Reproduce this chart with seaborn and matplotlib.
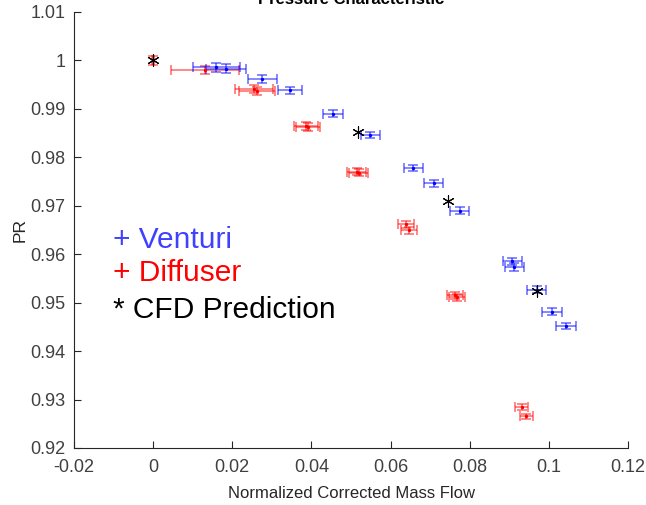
import matplotlib
matplotlib.use("Agg")
import matplotlib.pyplot as plt
import seaborn as sns
import pandas as pd

# Venturi data
venturi_x = [0.0160, 0.0184, 0.0276, 0.0345, 0.0454, 0.0549, 0.0657, 0.0709, 0.0775, 0.0908, 0.0912, 0.0970, 0.1007, 0.1043]
venturi_y = [0.9986, 0.9983, 0.9961, 0.9938, 0.9890, 0.9846, 0.9778, 0.9746, 0.9690, 0.9585, 0.9573, 0.9527, 0.9481, 0.9452]
venturi_xerr = [0.0059, 0.0051, 0.0036, 0.0030, 0.0026, 0.0024, 0.0024, 0.0024, 0.0024, 0.0024, 0.0024, 0.0024, 0.0025, 0.0026]
venturi_yerr = [0.0009, 0.0009, 0.0008, 0.0007, 0.0007, 0.0007, 0.0007, 0.0007, 0.0007, 0.0008, 0.0008, 0.0007, 0.0007, 0.0007]

# Diffuser data
diffuser_x = [0.0, 0.0131, 0.0254, 0.0263, 0.0387, 0.0392, 0.0514, 0.0519, 0.0638, 0.0646, 0.0762, 0.0767, 0.0931, 0.0943]
diffuser_y = [1.0, 0.9981, 0.99415, 0.99366, 0.9865, 0.9862, 0.9770, 0.9768, 0.96618, 0.96494, 0.9515, 0.9511, 0.92851, 0.92651]
diffuser_xerr = [0.0003, 0.0086, 0.0048, 0.0045, 0.0030, 0.0030, 0.0025, 0.0025, 0.0020, 0.0020, 0.0020, 0.0020, 0.0017, 0.0017]
diffuser_yerr = [0.0009, 0.0008, 0.0008, 0.0008, 0.0008, 0.0008, 0.0007, 0.0007, 0.0007, 0.0007, 0.0007, 0.0007, 0.0006, 0.0006]

# CFD prediction
cfd_x = [0.0, 0.0518, 0.0744, 0.0969]
cfd_y = [1.0, 0.9853, 0.9710, 0.9525]

x_ticks = [-0.02, 0, 0.02, 0.04, 0.06, 0.08, 0.1, 0.12]
x_ticklabels = ["-0.02", "0", "0.02", "0.04", "0.06", "0.08", "0.1", "0.12"]
y_ticks = [0.92, 0.93, 0.94, 0.95, 0.96, 0.97, 0.98, 0.99, 1.0, 1.01]
y_ticklabels = ["0.92", "0.93", "0.94", "0.95", "0.96", "0.97", "0.98", "0.99", "1", "1.01"]

sns.set_theme(style="white")
plt.rcParams["font.family"] = ["Liberation Sans", "DejaVu Sans"]

fig = plt.figure(figsize=(6.46, 5.05), dpi=100)
ax = fig.add_axes([74 / 646, 1 - 448 / 505, (628 - 74) / 646, (448 - 12) / 505])

dfv = pd.DataFrame({"x": venturi_x, "y": venturi_y})
dfd = pd.DataFrame({"x": diffuser_x, "y": diffuser_y})
dfc = pd.DataFrame({"x": cfd_x, "y": cfd_y})

ax.errorbar(diffuser_x, diffuser_y, xerr=diffuser_xerr, yerr=diffuser_yerr, fmt="none",
            ecolor="red", elinewidth=1.2, capsize=3.5, capthick=1.2, alpha=0.55, zorder=2)
ax.errorbar(venturi_x, venturi_y, xerr=venturi_xerr, yerr=venturi_yerr, fmt="none",
            ecolor="blue", elinewidth=1.2, capsize=3.5, capthick=1.2, alpha=0.55, zorder=2)
sns.scatterplot(data=dfd, x="x", y="y", ax=ax, color="red", marker="o", s=6, linewidth=0, zorder=3, legend=False)
sns.scatterplot(data=dfv, x="x", y="y", ax=ax, color="blue", marker="o", s=6, linewidth=0, zorder=3, legend=False)
sns.scatterplot(data=dfc, x="x", y="y", ax=ax, color="black", marker=(6, 2, 0), s=70,
                linewidth=0.8, edgecolor="black", zorder=4, legend=False)

ax.set_xlim(-0.02, 0.12)
ax.set_ylim(0.92, 1.01)
ax.set_xticks(x_ticks)
ax.set_xticklabels(x_ticklabels)
ax.set_yticks(y_ticks)
ax.set_yticklabels(y_ticklabels)
ax.set_xlabel("Normalized Corrected Mass Flow", fontsize=12, color="#262626", labelpad=7)
ax.set_ylabel("PR", fontsize=12.5, color="#262626", labelpad=2)

for s in ["top", "right"]:
    ax.spines[s].set_visible(False)
for s in ["left", "bottom"]:
    ax.spines[s].set_color("#262626")
    ax.spines[s].set_linewidth(0.8)
ax.tick_params(axis="x", pad=8)
ax.tick_params(axis="y", pad=6)
ax.tick_params(axis="both", direction="in", length=5, width=0.8, color="#262626",
               labelsize=13, labelcolor="#404040", left=True, bottom=True)

ax.text(0.070, 0.477, "+ Venturi", transform=ax.transAxes, fontsize=21.5, color="#4040ff", va="center")
ax.text(0.070, 0.401, "+ Diffuser", transform=ax.transAxes, fontsize=21.5, color="red", va="center")
ax.text(0.070, 0.317, "* CFD Prediction", transform=ax.transAxes, fontsize=21.5, color="black", va="center")

fig.text(351 / 646, 1 - 4 / 505, "Pressure Characteristic", ha="center", va="baseline",
         fontsize=12, fontweight="bold", color="black")

fig.savefig("out.png", dpi=100)
